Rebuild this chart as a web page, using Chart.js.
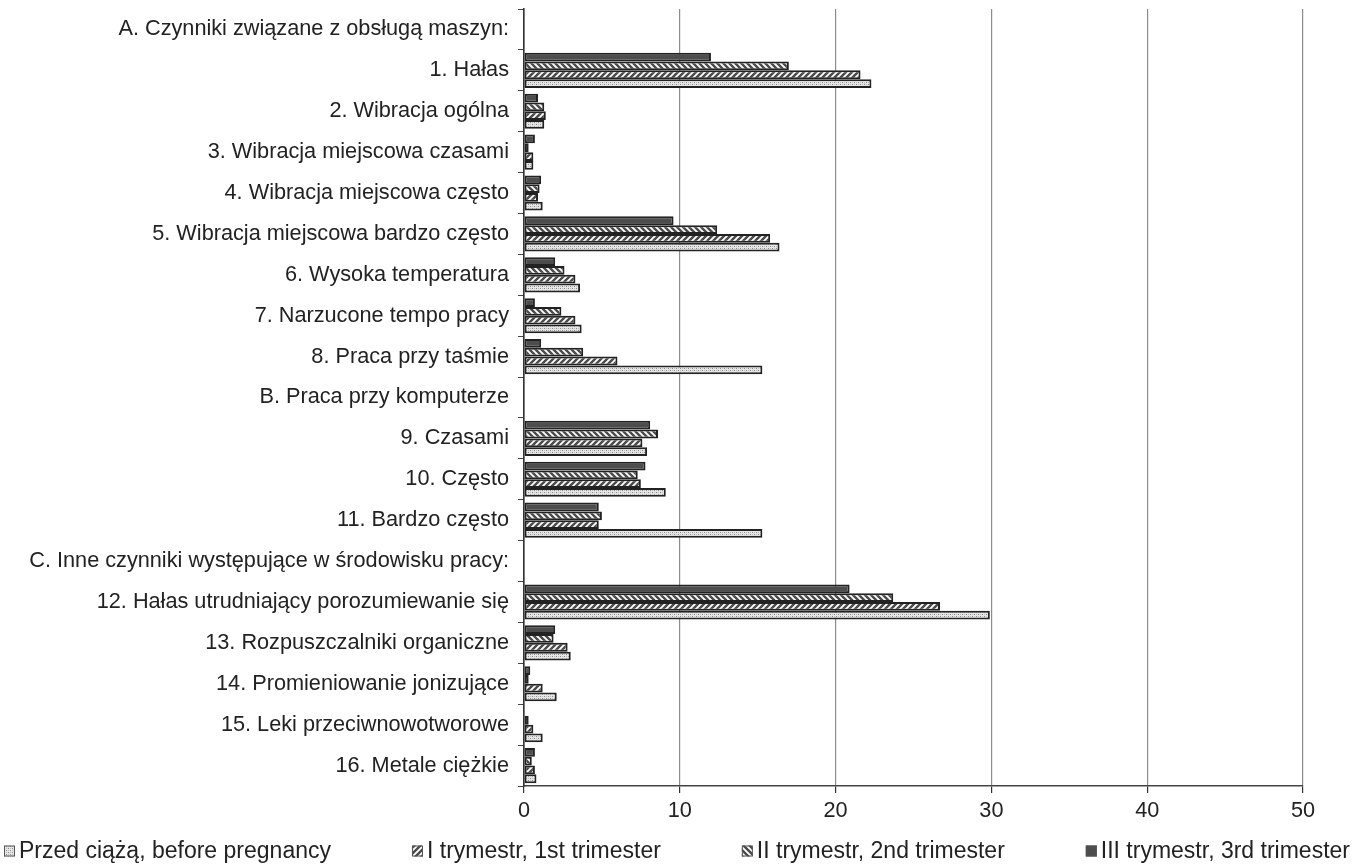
<!DOCTYPE html>
<html>
<head>
<meta charset="utf-8">
<script src="https://cdn.jsdelivr.net/npm/chart.js@4.4.1/dist/chart.umd.min.js"></script>
<style>
html,body{margin:0;padding:0;background:#fff;}
#wrap{position:relative;width:1354px;height:865px;}
</style>
</head>
<body>
<div id="wrap"><canvas id="c"></canvas></div>
<script>
const categories = [
  "A. Czynniki związane z obsługą maszyn:",
  "1. Hałas",
  "2. Wibracja ogólna",
  "3. Wibracja miejscowa czasami",
  "4. Wibracja miejscowa często",
  "5. Wibracja miejscowa bardzo często",
  "6. Wysoka temperatura",
  "7. Narzucone tempo pracy",
  "8. Praca przy taśmie",
  "B. Praca przy komputerze",
  "9. Czasami",
  "10. Często",
  "11. Bardzo często",
  "C. Inne czynniki występujące w środowisku pracy:",
  "12. Hałas utrudniający porozumiewanie się",
  "13. Rozpuszczalniki organiczne",
  "14. Promieniowanie jonizujące",
  "15. Leki przeciwnowotworowe",
  "16. Metale ciężkie"
];
const seriesNames = [
  "Przed ciążą, before pregnancy",
  "I trymestr, 1st trimester",
  "II trymestr, 2nd trimester",
  "III trymestr, 3rd trimester"
];
const przedCiaza = [null, 22.3, 1.3, 0.6, 1.2, 16.4, 3.6, 3.7, 15.3, null, 7.9, 9.1, 15.3, null, 29.9, 3.0, 2.1, 1.2, 0.8];
const trymestr1  = [null, 21.6, 1.4, 0.6, 0.9, 15.8, 3.3, 3.3, 6.0, null, 7.6, 7.5, 4.8, null, 26.7, 2.8, 1.2, 0.6, 0.7];
const trymestr2  = [null, 17.0, 1.3, 0.3, 1.0, 12.4, 2.6, 2.4, 3.8, null, 8.6, 7.3, 5.0, null, 23.7, 1.9, 0.3, 0.3, 0.5];
const trymestr3  = [null, 12.0, 0.9, 0.7, 1.1, 9.6, 2.0, 0.7, 1.1, null, 8.1, 7.8, 4.8, null, 20.9, 2.0, 0.4, 0.0, 0.7];
const xTicks = [0, 10, 20, 30, 40, 50];

function makePattern(kind){
  const s = kind === 'dots' ? 4 : 6;
  const cv = document.createElement('canvas');
  cv.width = s; cv.height = s;
  const g = cv.getContext('2d');
  if (kind === 'dots'){
    g.fillStyle = '#e6e6e6'; g.fillRect(0,0,s,s);
    g.fillStyle = '#8a8a8a';
    g.fillRect(0,0,1,1); g.fillRect(2,2,1,1);
    g.fillStyle = '#bdbdbd';
    g.fillRect(2,0,1,1); g.fillRect(0,2,1,1);
  } else {
    g.fillStyle = '#ffffff'; g.fillRect(0,0,s,s);
    g.strokeStyle = '#4a4a4a'; g.lineWidth = 2.4;
    g.beginPath();
    if (kind === 'fwd'){
      g.moveTo(-s, s*2); g.lineTo(s*2, -s);
      g.moveTo(-s, s); g.lineTo(s, -s);
      g.moveTo(0, s*2); g.lineTo(s*2, 0);
    } else {
      g.moveTo(-s, -s); g.lineTo(s*2, s*2);
      g.moveTo(-s, 0); g.lineTo(s, s*2);
      g.moveTo(0, -s); g.lineTo(s*2, s);
    }
    g.stroke();
  }
  return document.getElementById('c').getContext('2d').createPattern(cv, 'repeat');
}

const fontFamily = "'Liberation Sans', Arial, sans-serif";
const barCommon = {borderColor:'#222', borderWidth:2, borderSkipped:false, categoryPercentage:0.86, barPercentage:1.0};

const datasets = [
  Object.assign({label: seriesNames[3], data: trymestr3, backgroundColor:'#4d4d4d'}, barCommon),
  Object.assign({label: seriesNames[2], data: trymestr2, backgroundColor: makePattern('back')}, barCommon),
  Object.assign({label: seriesNames[1], data: trymestr1, backgroundColor: makePattern('fwd')}, barCommon),
  Object.assign({label: seriesNames[0], data: przedCiaza, backgroundColor: makePattern('dots')}, barCommon)
];

// legend drawn along the bottom, spread across the full width (legend order = reversed datasets)
const spreadLegend = {
  id: 'spreadLegend',
  afterDraw(chart) {
    const ctx = chart.ctx;
    const ds = chart.data.datasets;
    const order = ds.map((d, i) => i).reverse();
    ctx.save();
    ctx.font = '23px ' + fontFamily;
    const box = 11, gapText = 4;
    const widths = order.map(i => box + gapText + ctx.measureText(ds[i].label).width);
    const left = 4, right = 1350;
    const gap = (right - left - widths.reduce((a, b) => a + b, 0)) / (order.length - 1);
    let x = left;
    const y = 851;
    order.forEach((di, k) => {
      ctx.fillStyle = ds[di].backgroundColor;
      ctx.fillRect(x, y - box / 2, box, box);
      ctx.strokeStyle = '#555';
      ctx.lineWidth = 1;
      ctx.strokeRect(x + 0.5, y - box / 2 + 0.5, box - 1, box - 1);
      ctx.fillStyle = '#222';
      ctx.textBaseline = 'middle';
      ctx.textAlign = 'left';
      ctx.fillText(ds[di].label, x + box + gapText, y + 1);
      x += widths[k] + gap;
    });
    ctx.restore();
  }
};

Chart.defaults.font.family = fontFamily;
Chart.defaults.color = '#222';

new Chart(document.getElementById('c'), {
  type: 'bar',
  data: {labels: categories, datasets: datasets},
  options: {
    indexAxis: 'y',
    responsive: true,
    maintainAspectRatio: false,
    animation: false,
    layout: {padding: {top: 9, right: 51, bottom: 39, left: 0}},
    plugins: {
      legend: {display: false},
      tooltip: {enabled: false}
    },
    scales: {
      x: {
        min: 0, max: 50,
        afterBuildTicks: (sc) => { sc.ticks = xTicks.map(v => ({value: v})); },
        afterFit: (sc) => { sc.height = 40; },
        grid: {color: '#8c8c8c', lineWidth: 1.2, tickLength: 7, tickColor: '#333', drawTicks: true},
        border: {display: true, color: '#444', width: 1.6},
        ticks: {font: {size: 21.7}, color: '#222', padding: 5}
      },
      y: {
        afterFit: (sc) => { sc.width = 524; sc.paddingTop = 0; sc.paddingBottom = 0; },
        grid: {display: true, drawOnChartArea: false, drawTicks: true, tickLength: 6, tickColor: '#444', offset: true},
        border: {display: true, color: '#333', width: 1.6},
        ticks: {font: {size: 21.7}, color: '#222', padding: 9, autoSkip: false}
      }
    }
  },
  plugins: [spreadLegend]
});
</script>
</body>
</html>
